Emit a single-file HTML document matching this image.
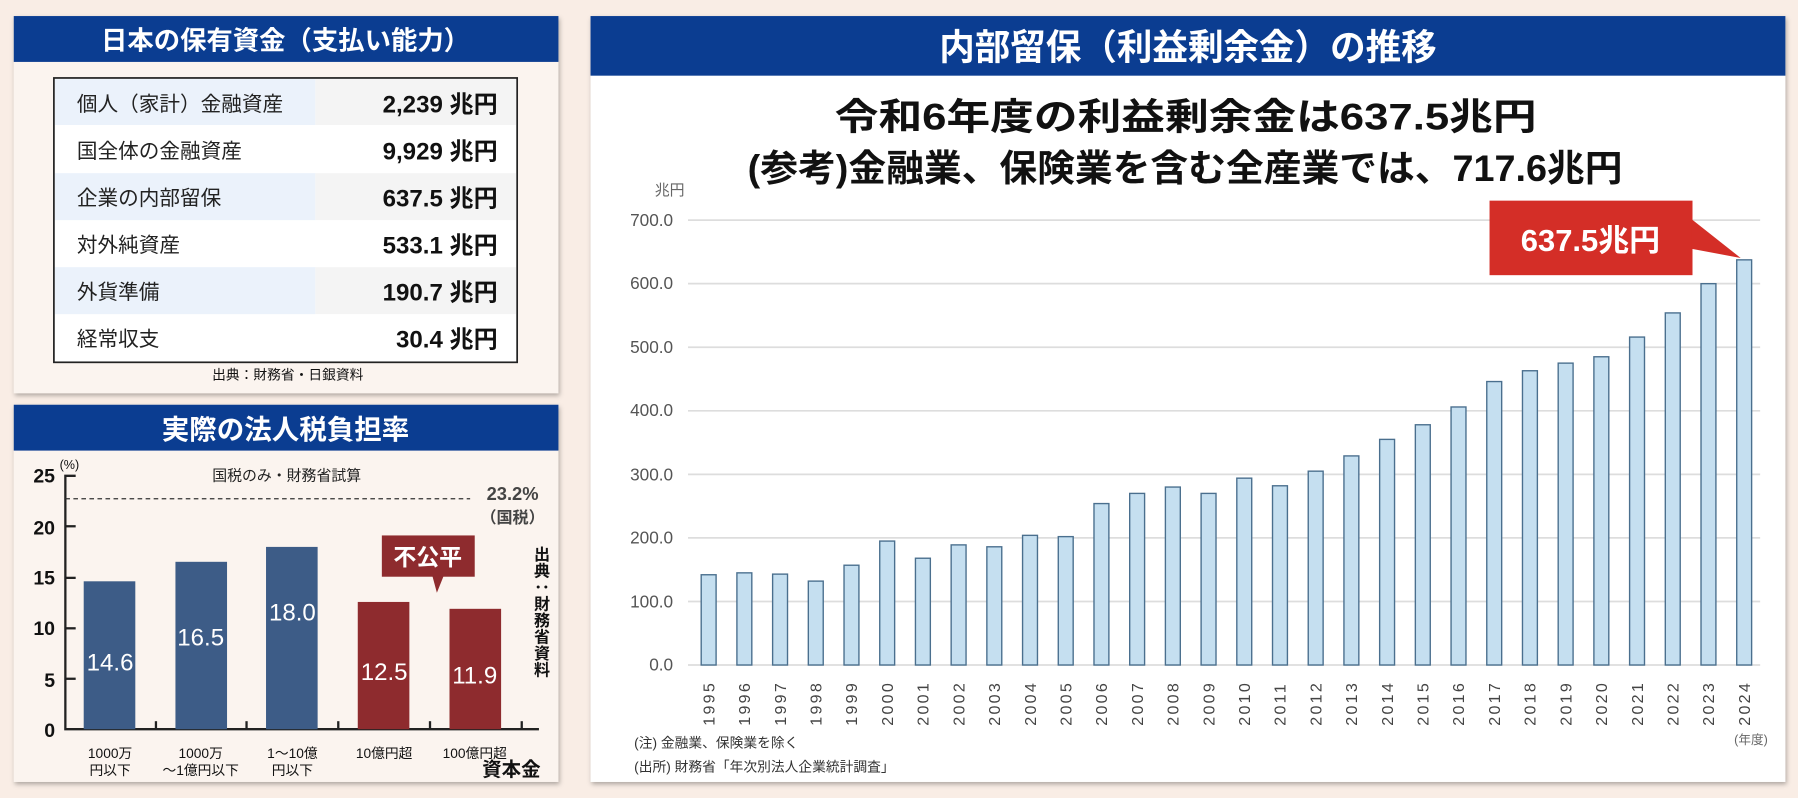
<!DOCTYPE html>
<html><head><meta charset="utf-8"><style>
html,body{margin:0;padding:0;background:#f9ede5;}
svg{display:block;}
text{font-family:"Liberation Sans","Noto Sans CJK JP",sans-serif;}
</style></head><body>
<svg width="1798" height="798" viewBox="0 0 1568 696" preserveAspectRatio="none" xmlns="http://www.w3.org/2000/svg">
<defs><filter id="sh" x="-5%" y="-5%" width="110%" height="110%"><feDropShadow dx="1" dy="2" stdDeviation="2" flood-color="#000" flood-opacity="0.3"/></filter></defs>
<rect width="1568" height="696" fill="#f9ede5"/>
<!-- Panel 1 -->
<rect x="12" y="14" width="475" height="329" fill="#fbf4ef" filter="url(#sh)"/>
<rect x="12" y="14" width="475" height="40" fill="#0b3d91"/>
<text x="249" y="43" fill="#fff" font-size="23" font-weight="bold" text-anchor="middle">日本の保有資金（支払い能力）</text>
<rect x="47" y="68" width="404" height="248" fill="#fff" stroke="#222" stroke-width="1.5"/>
<g font-size="18" fill="#222">
<rect x="48" y="69" width="227" height="40" fill="#ebf2fb"/><rect x="275" y="69" width="175" height="40" fill="#f4f4f4"/>
<rect x="48" y="151" width="227" height="41" fill="#ebf2fb"/><rect x="275" y="151" width="175" height="41" fill="#f4f4f4"/>
<rect x="48" y="233" width="227" height="41" fill="#ebf2fb"/><rect x="275" y="233" width="175" height="41" fill="#f4f4f4"/>
<text x="67" y="97">個人（家計）金融資産</text>
<text x="67" y="138">国全体の金融資産</text>
<text x="67" y="179">企業の内部留保</text>
<text x="67" y="220">対外純資産</text>
<text x="67" y="261">外貨準備</text>
<text x="67" y="302">経常収支</text>
<g font-size="21" font-weight="bold" text-anchor="end" fill="#111">
<text x="434" y="98">2,239 兆円</text>
<text x="434" y="139">9,929 兆円</text>
<text x="434" y="180">637.5 兆円</text>
<text x="434" y="221">533.1 兆円</text>
<text x="434" y="262">190.7 兆円</text>
<text x="434" y="303">30.4 兆円</text>
</g></g>
<text x="251" y="331" font-size="12" text-anchor="middle" fill="#111">出典：財務省・日銀資料</text>
<!-- Panel 2 -->
<rect x="12" y="353" width="475" height="329" fill="#fbf4ef" filter="url(#sh)"/>
<rect x="12" y="353" width="475" height="40" fill="#0b3d91"/>
<text x="249" y="383" fill="#fff" font-size="24" font-weight="bold" text-anchor="middle">実際の法人税負担率</text>
<g stroke="#222" stroke-width="2" fill="none">
<polyline points="66,415 57,415 57,636 470,636"/>
<line x1="57" y1="459" x2="66" y2="459"/><line x1="57" y1="504" x2="66" y2="504"/><line x1="57" y1="548" x2="66" y2="548"/><line x1="57" y1="592" x2="66" y2="592"/>
<line x1="136" y1="636" x2="136" y2="629"/><line x1="215" y1="636" x2="215" y2="629"/><line x1="295" y1="636" x2="295" y2="629"/><line x1="375" y1="636" x2="375" y2="629"/><line x1="455" y1="636" x2="455" y2="629"/>
</g>
<line x1="57" y1="435" x2="410" y2="435" stroke="#333" stroke-width="1" stroke-dasharray="4,3"/>
<g font-size="17" font-weight="bold" text-anchor="end" fill="#111">
<text x="48" y="421">25</text><text x="48" y="466">20</text><text x="48" y="510">15</text><text x="48" y="554">10</text><text x="48" y="599">5</text><text x="48" y="643">0</text>
</g>
<text x="52" y="409" font-size="11" fill="#111">(%)</text>
<text x="250" y="419" font-size="13" text-anchor="middle" fill="#222">国税のみ・財務省試算</text>
<text x="447" y="436" font-size="16" font-weight="bold" text-anchor="middle" fill="#444">23.2%</text>
<text x="447" y="456" font-size="14" font-weight="bold" text-anchor="middle" fill="#444">（国税）</text>
<rect x="73" y="507" width="45" height="129" fill="#3d5c87"/>
<rect x="153" y="490" width="45" height="146" fill="#3d5c87"/>
<rect x="232" y="477" width="45" height="159" fill="#3d5c87"/>
<rect x="312" y="525" width="45" height="111" fill="#8e2b2e"/>
<rect x="392" y="531" width="45" height="105" fill="#8e2b2e"/>
<g font-size="21" fill="#fff" text-anchor="middle">
<text x="96" y="585">14.6</text><text x="175" y="563">16.5</text><text x="255" y="541">18.0</text><text x="335" y="593">12.5</text><text x="414" y="596">11.9</text>
</g>
<rect x="333" y="467" width="81" height="36" fill="#8e2b2e"/>
<polygon points="377,502 387,502 381,517" fill="#8e2b2e"/>
<text x="373" y="493" font-size="20" font-weight="bold" fill="#fff" text-anchor="middle">不公平</text>
<g font-size="12" fill="#111" text-anchor="middle">
<text x="96" y="661">1000万</text><text x="96" y="676">円以下</text>
<text x="175" y="661">1000万</text><text x="175" y="676">～1億円以下</text>
<text x="255" y="661">1～10億</text><text x="255" y="676">円以下</text>
<text x="335" y="661">10億円超</text><text x="414" y="661">100億円超</text>
</g>
<text x="446" y="677" font-size="17" font-weight="bold" text-anchor="middle" fill="#111">資本金</text>
<text x="471" y="476" font-size="14" font-weight="bold" fill="#111" style="writing-mode:vertical-rl" textLength="115" lengthAdjust="spacing">出典：財務省資料</text>
<!-- Panel 3 -->
<rect x="515" y="14" width="1042" height="668" fill="#fff" filter="url(#sh)"/>
<rect x="515" y="14" width="1042" height="52" fill="#0b3d91"/>
<text x="1036" y="52" fill="#fff" font-size="31" font-weight="bold" text-anchor="middle">内部留保（利益剰余金）の推移</text>
<text x="728" y="113" font-size="32" font-weight="bold" fill="#111" textLength="612" lengthAdjust="spacingAndGlyphs">令和6年度の利益剰余金は637.5兆円</text>
<text x="652" y="158" font-size="32" font-weight="bold" fill="#111" textLength="763" lengthAdjust="spacingAndGlyphs">(参考)金融業、保険業を含む全産業では、717.6兆円</text>
<text x="571" y="170" font-size="13" fill="#666">兆円</text>
<g stroke="#ddd" stroke-width="1.5">
<line x1="600" y1="192" x2="1535" y2="192"/><line x1="600" y1="247.4" x2="1535" y2="247.4"/><line x1="600" y1="302.9" x2="1535" y2="302.9"/><line x1="600" y1="358.3" x2="1535" y2="358.3"/><line x1="600" y1="413.7" x2="1535" y2="413.7"/><line x1="600" y1="469.1" x2="1535" y2="469.1"/><line x1="600" y1="524.6" x2="1535" y2="524.6"/><line x1="600" y1="580" x2="1535" y2="580"/>
</g>
<g font-size="15" fill="#555" text-anchor="end">
<text x="587" y="197">700.0</text><text x="587" y="252">600.0</text><text x="587" y="308">500.0</text><text x="587" y="363">400.0</text><text x="587" y="419">300.0</text><text x="587" y="474">200.0</text><text x="587" y="530">100.0</text><text x="587" y="585">0.0</text>
</g>
<g id="bars" fill="#c5dff0" stroke="#4a6f8e" stroke-width="1.2"></g>
<g id="yrs" font-size="14" fill="#444"></g>
<text x="1527" y="649" font-size="11" fill="#666" text-anchor="middle">(年度)</text>
<text x="553" y="652" font-size="12" fill="#333">(注)  金融業、保険業を除く</text>
<text x="553" y="673" font-size="12" fill="#333">(出所)    財務省「年次別法人企業統計調査」</text>
<rect x="1299" y="175" width="177" height="65" fill="#d42e27"/>
<polygon points="1475,191 1475,217 1518,225" fill="#d42e27"/>
<text x="1387" y="219" font-size="27" font-weight="bold" fill="#fff" text-anchor="middle">637.5兆円</text>
</svg>
<script>
var v=[142,145,143,132,157,195,168,189,186,204,202,254,270,280,270,294,282,305,329,355,378,406,446,463,475,485,516,554,600,637.5];
var b=document.getElementById('bars'),y=document.getElementById('yrs');
var s="",t="";
for(var i=0;i<30;i++){var cx=618+i*31.14,h=v[i]*0.5543;
s+='<rect x="'+(cx-6.5)+'" y="'+(580-h)+'" width="13" height="'+h+'"/>';
t+='<text transform="translate('+(cx+5)+',633) rotate(-90)" letter-spacing="2">'+(1995+i)+'</text>';}
b.innerHTML=s;y.innerHTML=t;
</script>
</body></html>
